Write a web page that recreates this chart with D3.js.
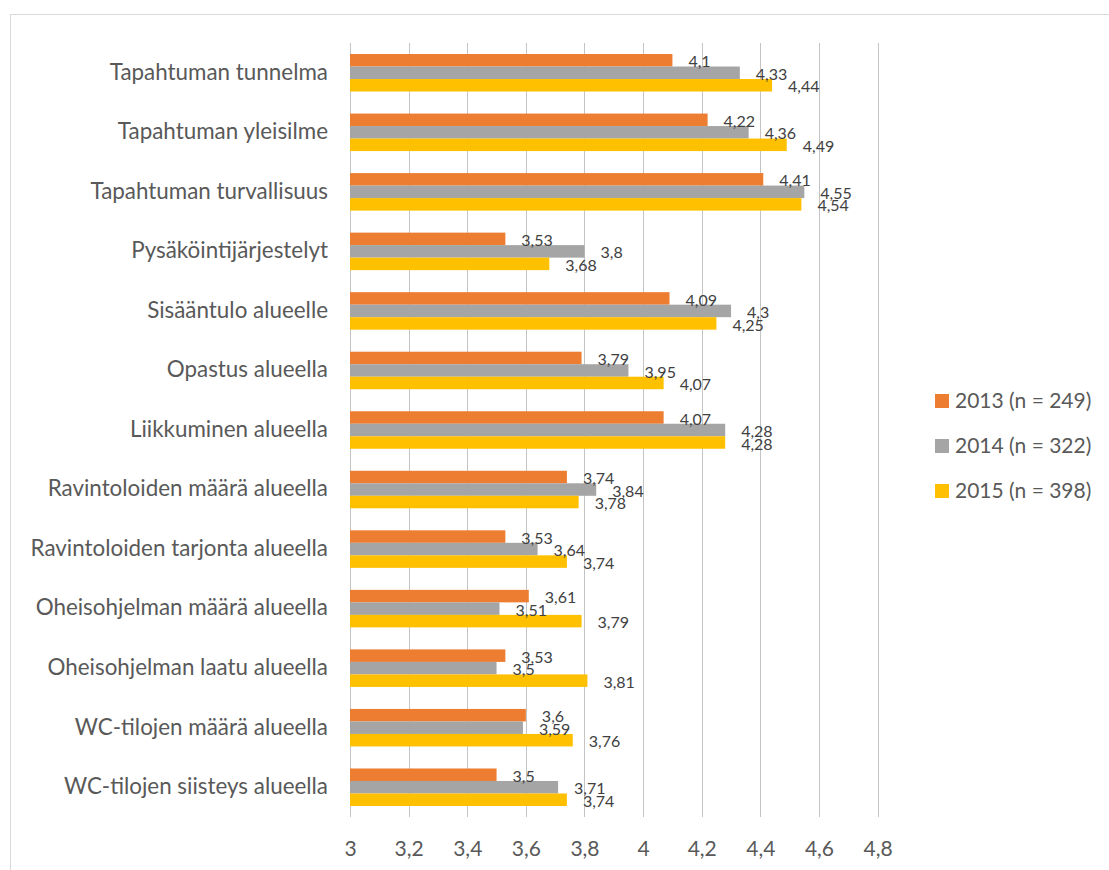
<!DOCTYPE html>
<html>
<head>
<meta charset="utf-8">
<script src="https://cdn.jsdelivr.net/npm/d3@7"></script>
<style>
  html, body { margin: 0; padding: 0; background: #fff; }
  svg { display: block; font-family: Lato, "Open Sans", sans-serif; }
</style>
</head>
<body>
<svg id="chart" width="1109" height="870"></svg>
<script>
// Survey items, top to bottom
const categories = [
  "Tapahtuman tunnelma",
  "Tapahtuman yleisilme",
  "Tapahtuman turvallisuus",
  "Pysäköintijärjestelyt",
  "Sisääntulo alueelle",
  "Opastus alueella",
  "Liikkuminen alueella",
  "Ravintoloiden määrä alueella",
  "Ravintoloiden tarjonta alueella",
  "Oheisohjelman määrä alueella",
  "Oheisohjelman laatu alueella",
  "WC-tilojen määrä alueella",
  "WC-tilojen siisteys alueella"
];

// Mean ratings per year
const values2013 = [4.1, 4.22, 4.41, 3.53, 4.09, 3.79, 4.07, 3.74, 3.53, 3.61, 3.53, 3.6, 3.5];
const values2014 = [4.33, 4.36, 4.55, 3.8, 4.3, 3.95, 4.28, 3.84, 3.64, 3.51, 3.5, 3.59, 3.71];
const values2015 = [4.44, 4.49, 4.54, 3.68, 4.25, 4.07, 4.28, 3.78, 3.74, 3.79, 3.81, 3.76, 3.74];

const seriesNames = ["2013 (n = 249)", "2014 (n = 322)", "2015 (n = 398)"];
const seriesColors = ["#ED7D31", "#A5A5A5", "#FFC000"];
const tickValues = [3, 3.2, 3.4, 3.6, 3.8, 4, 4.2, 4.4, 4.6, 4.8];

const series = [values2013, values2014, values2015];

const svg = d3.select("#chart");

// Chart area frame
svg.append("rect")
  .attr("x", 10.5).attr("y", 14.5)
  .attr("width", 1200).attr("height", 1000)
  .attr("fill", "none").attr("stroke", "#D9D9D9");

const plot = { left: 350, right: 877.6, top: 43, bottom: 817 };

const x = d3.scaleLinear().domain([3, 4.8]).range([plot.left, plot.right]);
const y = d3.scaleBand().domain(categories).range([plot.top, plot.bottom]).paddingInner(0.37).paddingOuter(0.185);
const ySub = d3.scaleBand().domain(d3.range(series.length)).range([0, y.bandwidth()]);

const fmt = v => String(+v.toFixed(2)).replace(".", ",");

// Vertical gridlines
svg.append("g")
  .selectAll("line")
  .data(tickValues)
  .join("line")
  .attr("x1", d => Math.round(x(d)) + 0.5)
  .attr("x2", d => Math.round(x(d)) + 0.5)
  .attr("y1", plot.top)
  .attr("y2", plot.bottom)
  .attr("stroke", "#C4C4C4")
  .attr("stroke-width", 1);

// X axis tick labels
const xAxis = d3.axisBottom(x).tickValues(tickValues).tickSize(0).tickPadding(0).tickFormat(fmt);
const gx = svg.append("g").attr("transform", `translate(0,${plot.bottom})`).call(xAxis);
gx.select(".domain").remove();
gx.selectAll("text")
  .attr("y", 32)
  .attr("dy", "0.35em")
  .attr("font-family", "Lato, sans-serif")
  .attr("font-size", 21)
  .attr("fill", "#595959");

// Category labels
const yAxis = d3.axisLeft(y).tickSize(0).tickPadding(0);
const gy = svg.append("g").attr("transform", `translate(${328},0)`).call(yAxis);
gy.select(".domain").remove();
gy.selectAll("text")
  .attr("font-family", "Lato, sans-serif")
  .attr("font-size", 22.4)
  .attr("fill", "#595959")
  .attr("dy", "0.35em")
  .attr("y", -1);

// Bars
const groups = svg.append("g")
  .selectAll("g")
  .data(categories)
  .join("g")
  .attr("transform", d => `translate(0,${y(d)})`);

groups.selectAll("rect")
  .data((d, i) => series.map((s, k) => ({ k, v: s[i] })))
  .join("rect")
  .attr("x", x(3))
  .attr("y", d => ySub(d.k))
  .attr("width", d => x(d.v) - x(3))
  .attr("height", ySub.bandwidth())
  .attr("fill", d => seriesColors[d.k]);

// Value labels
groups.selectAll("text")
  .data((d, i) => series.map((s, k) => ({ k, v: s[i] })))
  .join("text")
  .attr("x", d => x(d.v) + 16)
  .attr("y", d => ySub(d.k) + ySub.bandwidth() / 2 + 1.5)
  .attr("dy", "0.35em")
  .attr("font-family", "Lato, sans-serif")
  .attr("font-size", 16)
  .attr("fill", "#404040")
  .text(d => fmt(d.v));

// Legend
const legend = svg.append("g")
  .selectAll("g")
  .data(seriesNames)
  .join("g")
  .attr("transform", (d, i) => `translate(935,${401 + i * 45})`);

legend.append("rect")
  .attr("x", 0).attr("y", -7)
  .attr("width", 14).attr("height", 14)
  .attr("fill", (d, i) => seriesColors[i]);

legend.append("text")
  .attr("x", 20)
  .attr("y", 0)
  .attr("dy", "0.35em")
  .attr("font-family", "Lato, sans-serif")
  .attr("font-size", 21)
  .attr("fill", "#595959")
  .text(d => d);
</script>
</body>
</html>
